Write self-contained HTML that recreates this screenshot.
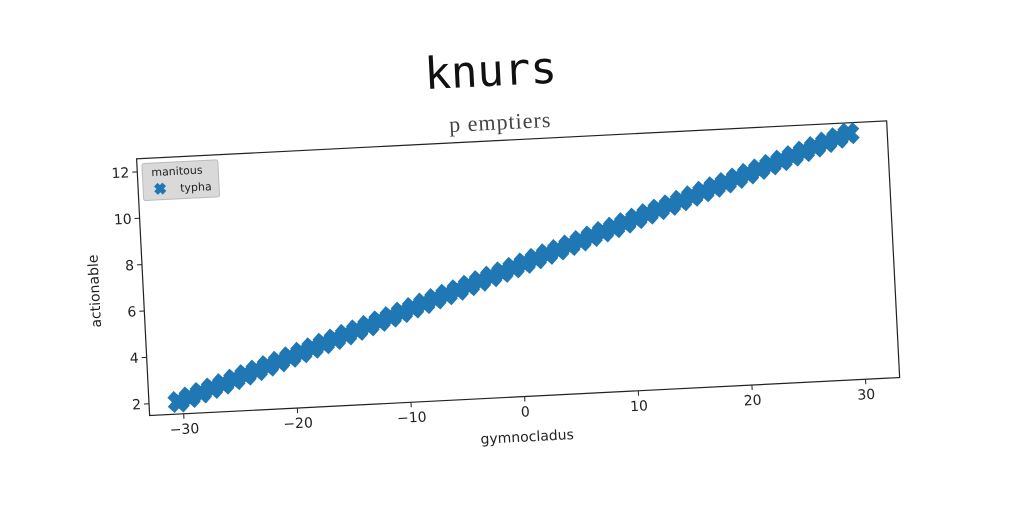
<!DOCTYPE html>
<html><head><meta charset="utf-8"><style>
html,body{margin:0;padding:0;background:#fff;width:1024px;height:512px;overflow:hidden}
svg{display:block}
</style></head><body>
<svg id="fig" width="1024" height="512" viewBox="0 0 1024 512" xmlns="http://www.w3.org/2000/svg">
<g id="rot" transform="rotate(-2.9 512 256)">
<text x="500" y="85" text-anchor="middle" font-family="DejaVu Sans Mono, Liberation Mono, monospace" font-size="44" fill="#111">knurs</text>
<text x="507" y="129" text-anchor="middle" letter-spacing="1" font-family="Liberation Serif, serif" font-size="22" fill="#444">p emptiers</text>
<g id="plot" transform="translate(142 140)"></g>
<text x="518" y="442" text-anchor="middle" font-family="DejaVu Sans, sans-serif" font-size="14" fill="#222">gymnocladus</text>
<text transform="translate(98 270) rotate(-90)" text-anchor="middle" font-family="DejaVu Sans, sans-serif" font-size="14" fill="#222">actionable</text>
</g>
</svg>
<script>
const xValues = [-30.4,-29.4,-28.4,-27.4,-26.4,-25.4,-24.4,-23.4,-22.4,-21.4,-20.4,-19.4,-18.4,-17.4,-16.4,-15.4,-14.4,-13.4,-12.4,-11.4,-10.4,-9.4,-8.4,-7.4,-6.4,-5.4,-4.4,-3.4,-2.4,-1.4,-0.4,0.6,1.6,2.6,3.6,4.6,5.6,6.6,7.6,8.6,9.6,10.6,11.6,12.6,13.6,14.6,15.6,16.6,17.6,18.6,19.6,20.6,21.6,22.6,23.6,24.6,25.6,26.6,27.6,28.6,29.6];
const yValues = [2.02,2.19,2.36,2.53,2.69,2.86,3.03,3.20,3.37,3.53,3.70,3.87,4.04,4.21,4.37,4.54,4.71,4.88,5.05,5.21,5.38,5.55,5.72,5.89,6.05,6.22,6.39,6.56,6.73,6.89,7.06,7.23,7.40,7.57,7.73,7.90,8.07,8.24,8.41,8.57,8.74,8.91,9.08,9.25,9.41,9.58,9.75,9.92,10.09,10.25,10.42,10.59,10.76,10.93,11.09,11.26,11.43,11.60,11.77,11.93,12.10];
const xTicks = [-30,-20,-10,0,10,20,30];
const yTicks = [2,4,6,8,10,12];
const seriesName = "typha";
const legendTitle = "manitous";

const W=751,H=257,XMIN=-33,XMAX=33,YMIN=1.49,YMAX=12.56;
const NS="http://www.w3.org/2000/svg";
const plot=document.getElementById('plot');
const sx=v=>(v-XMIN)/(XMAX-XMIN)*W;
const sy=v=>H-(v-YMIN)/(YMAX-YMIN)*H;
function mk(tag,attrs,parent){const e=document.createElementNS(NS,tag);for(const k in attrs)e.setAttribute(k,attrs[k]);(parent||plot).appendChild(e);return e;}
const frame=mk('rect',{x:0,y:0,width:W,height:H,fill:'#fff',stroke:'#222','stroke-width':1.2});


const xp="M-10,-4 L-4,-10 L0,-6 L4,-10 L10,-4 L6,0 L10,4 L4,10 L0,6 L-4,10 L-10,4 L-6,0 Z";
xValues.forEach((xv,i)=>{
  const m=mk('path',{d:xp,fill:'#1f77b4',transform:`translate(${sx(xv)} ${sy(yValues[i])}) scale(1.1)`});
  
  
});
xTicks.forEach(t=>{
  const x=sx(t);
  const l=mk('line',{x1:x,y1:H,x2:x,y2:H+5,stroke:'#222'});
  
  
  const tx=mk('text',{x:x,y:H+20,'text-anchor':'middle','font-family':'DejaVu Sans, sans-serif','font-size':14,fill:'#222'});
  tx.textContent=t<0?'\u2212'+(-t):String(t);
  
  
});
yTicks.forEach(t=>{
  const y=sy(t);
  const l=mk('line',{x1:-5,y1:y,x2:0,y2:y,stroke:'#222'});
  
  
  const tx=mk('text',{x:-8,y:y+5,'text-anchor':'end','font-family':'DejaVu Sans, sans-serif','font-size':14,fill:'#222'});
  tx.textContent=String(t);
  
  
});
const lg=mk('g',{});


mk('rect',{x:5,y:5,width:76,height:37,rx:2,fill:'#d9d9d9',stroke:'#bbb'},lg);
const lt=mk('text',{x:14,y:18,'font-family':'DejaVu Sans, sans-serif','font-size':11,fill:'#222'},lg);
lt.textContent=legendTitle;


const lm=mk('path',{d:xp,fill:'#1f77b4',transform:'translate(22 31) scale(0.6)'},lg);


const le=mk('text',{x:42,y:35,'font-family':'DejaVu Sans, sans-serif','font-size':11,fill:'#222'},lg);
le.textContent=seriesName;


</script>
</body></html>
